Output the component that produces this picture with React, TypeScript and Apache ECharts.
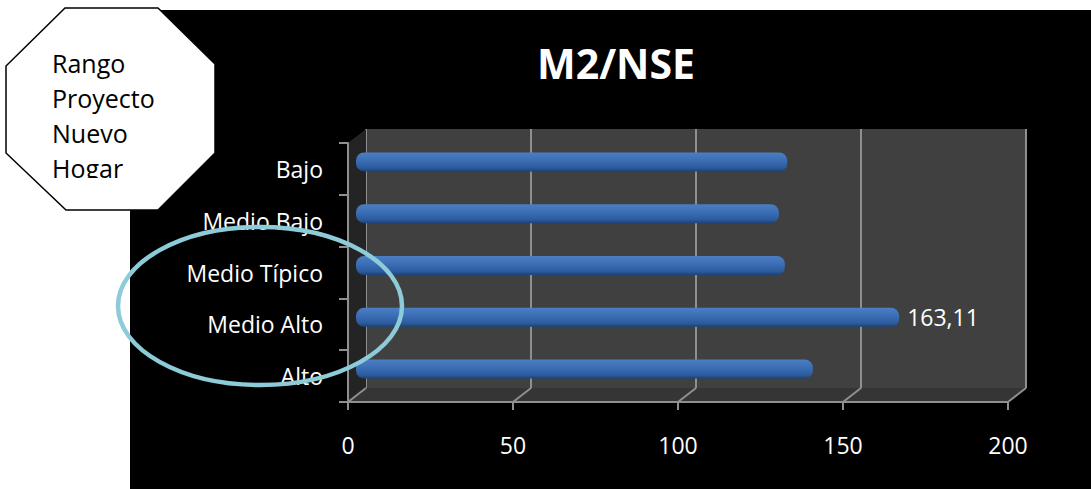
import React, { useEffect, useRef } from "react";
import * as echarts from "echarts";

// M2 per socio-economic level
const categories = ["Bajo", "Medio Bajo", "Medio Típico", "Medio Alto", "Alto"];
const m2Values = [129.5, 127, 128.8, 163.11, 137.2];
const labeledCategory = "Medio Alto";

// value axis
const axisMin = 0;
const axisMax = 200;
const axisInterval = 50;
const axisTicks = [0, 50, 100, 150, 200];

const chartTitle = "M2/NSE";
const noteLines = ["Rango", "Proyecto", "Nuevo", "Hogar"];

const FONT = "'Open Sans', 'Noto Sans', sans-serif";
const W = 1091;
const H = 489;

// front face of the pseudo-3D plot, and the depth offset of the back wall
const FRONT = { left: 348, top: 143, width: 660, height: 259 };
const DEPTH = { dx: 18, dy: -14 };
// bars sit half-way into the depth; their rounded caps make them read slightly longer
const BAR_FACE = { left: 356, width: 666 };

const AXIS_GRAY = "#8f8f8f";

export default function App() {
  const ref = useRef<HTMLDivElement>(null);

  useEffect(() => {
    if (!ref.current) return;
    const chart = echarts.init(ref.current, undefined, { renderer: "svg" });

    const back = {
      left: FRONT.left + DEPTH.dx,
      top: FRONT.top + DEPTH.dy,
    };
    const midTop = FRONT.top + DEPTH.dy / 2;
    const fBottom = FRONT.top + FRONT.height;
    const bBottom = fBottom + DEPTH.dy;
    const xAt = (v: number) => FRONT.left + ((v - axisMin) / (axisMax - axisMin)) * FRONT.width;

    const floorLines = axisTicks.map((v) => ({
      type: "line",
      z: 2,
      shape: { x1: xAt(v), y1: fBottom, x2: xAt(v) + DEPTH.dx, y2: bBottom },
      style: { stroke: AXIS_GRAY, lineWidth: 2 },
    }));

    const gridBox = (left: number, top: number, width: number) => ({
      left,
      top,
      right: W - left - width,
      bottom: H - top - FRONT.height,
    });

    chart.setOption({
      animation: false,
      backgroundColor: "transparent",
      grid: [
        { ...gridBox(FRONT.left, FRONT.top, FRONT.width) },
        {
          ...gridBox(back.left, back.top, FRONT.width),
          show: true,
          backgroundColor: "#404040",
          borderWidth: 0,
          z: 0,
        },
        { ...gridBox(BAR_FACE.left, midTop, BAR_FACE.width) },
      ],
      xAxis: [
        {
          gridIndex: 0,
          type: "value",
          min: axisMin,
          max: axisMax,
          interval: axisInterval,
          z: 5,
          axisLine: { show: true, lineStyle: { color: AXIS_GRAY, width: 2 } },
          axisTick: { show: true, length: 8, lineStyle: { color: AXIS_GRAY, width: 2 } },
          splitLine: { show: false },
          axisLabel: { color: "#ffffff", fontSize: 23, fontFamily: FONT, margin: 31 },
        },
        {
          gridIndex: 1,
          type: "value",
          min: axisMin,
          max: axisMax,
          interval: axisInterval,
          axisLine: { show: false },
          axisTick: { show: false },
          axisLabel: { show: false },
          splitLine: { show: true, lineStyle: { color: AXIS_GRAY, width: 2, type: "solid" } },
        },
        {
          gridIndex: 2,
          type: "value",
          min: axisMin,
          max: axisMax,
          show: false,
        },
      ],
      yAxis: [
        {
          gridIndex: 0,
          type: "category",
          inverse: true,
          data: categories,
          z: 5,
          axisLine: { show: true, lineStyle: { color: AXIS_GRAY, width: 2 } },
          axisTick: { show: true, length: 9, lineStyle: { color: AXIS_GRAY, width: 2 } },
          axisLabel: { color: "#ffffff", fontSize: 23, fontFamily: FONT, margin: 25 },
        },
        {
          gridIndex: 1,
          type: "category",
          inverse: true,
          data: categories,
          show: false,
        },
        {
          gridIndex: 2,
          type: "category",
          inverse: true,
          data: categories,
          show: false,
        },
      ],
      series: [
        {
          type: "bar",
          xAxisIndex: 2,
          yAxisIndex: 2,
          barWidth: 19,
          z: 3,
          itemStyle: {
            borderRadius: 8,
            color: new echarts.graphic.LinearGradient(0, 0, 0, 1, [
              { offset: 0, color: "#4b7ec2" },
              { offset: 0.45, color: "#3a6db3" },
              { offset: 0.8, color: "#2d5c9e" },
              { offset: 1, color: "#1c4278" },
            ]),
          },
          data: m2Values.map((v, i) => ({
            value: v,
            label: {
              show: categories[i] === labeledCategory,
              position: "right",
              distance: 8,
              color: "#ffffff",
              fontSize: 23,
              fontFamily: FONT,
              formatter: (p: any) => String(p.value).replace(".", ","),
            },
          })),
        },
      ],
      graphic: [
        // left side wall
        {
          type: "polygon",
          z: 1,
          shape: {
            points: [
              [FRONT.left, FRONT.top],
              [back.left, back.top],
              [back.left, bBottom],
              [FRONT.left, fBottom],
            ],
          },
          style: { fill: "#242424" },
        },
        // floor
        {
          type: "polygon",
          z: 1,
          shape: {
            points: [
              [FRONT.left, fBottom],
              [FRONT.left + FRONT.width, fBottom],
              [back.left + FRONT.width, bBottom],
              [back.left, bBottom],
            ],
          },
          style: { fill: "#353535" },
        },
        ...floorLines,
        {
          type: "text",
          z: 10,
          x: 616,
          y: 63,
          style: {
            text: chartTitle,
            fill: "#ffffff",
            font: `bold 41px ${FONT}`,
            align: "center",
            verticalAlign: "middle",
          },
        },
        // octagon note
        {
          type: "polygon",
          z: 50,
          shape: {
            points: [
              [65, 8],
              [158, 8],
              [215, 64],
              [215, 153],
              [158, 210],
              [66, 210],
              [6, 153],
              [6, 66],
            ],
          },
          style: { fill: "#ffffff", stroke: "#000000", lineWidth: 1.5 },
        },
        {
          type: "text",
          z: 51,
          x: 52,
          y: 45,
          style: {
            text: noteLines.join("\n"),
            fill: "#000000",
            font: `25px ${FONT}`,
            lineHeight: 35,
            align: "left",
            verticalAlign: "top",
          },
        },
        {
          type: "rect",
          z: 52,
          shape: { x: 48, y: 178, width: 90, height: 12 },
          style: { fill: "#ffffff" },
        },
        // highlight ring
        {
          type: "ellipse",
          z: 60,
          shape: { cx: 260, cy: 306, rx: 142, ry: 79 },
          style: { fill: "none", stroke: "#8ecbd9", lineWidth: 4.5 },
        },
      ],
    });

    return () => chart.dispose();
  }, []);

  return (
    <div style={{ position: "fixed", left: 0, top: 0, width: W, height: H, background: "#ffffff" }}>
      <div
        style={{
          position: "absolute",
          left: 130,
          top: 10,
          width: W - 130,
          height: H - 10,
          background: "#000000",
        }}
      />
      <div ref={ref} style={{ position: "absolute", left: 0, top: 0, width: W, height: H }} />
    </div>
  );
}
